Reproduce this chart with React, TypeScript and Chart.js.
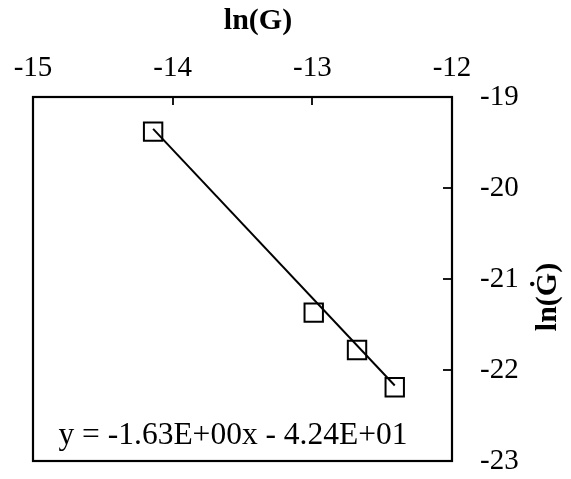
import React, { useEffect, useRef } from "react";
import { Chart, registerables } from "chart.js";

Chart.register(...registerables);

const lnG = [-14.14, -12.99, -12.68, -12.41];
const lnGdot = [-19.38, -21.37, -21.78, -22.19];
const trendX = [-14.14, -12.41];
const trendY = [-19.35, -22.17];
const xTicks = [-15, -14, -13, -12];
const yTicks = [-19, -20, -21, -22, -23];
const xTitle = "ln(G)";
const yTitle = "ln(\u0120)";
const equation = "y = -1.63E+00x - 4.24E+01";

const FONT = "'Liberation Serif', 'Times New Roman', serif";

const framePlugin = {
  id: "frame",
  afterDraw(chart: any) {
    const { ctx, chartArea: a, scales } = chart;
    const x = scales.x;
    const y = scales.y;
    ctx.save();
    ctx.strokeStyle = "#000";
    ctx.lineWidth = 2.2;
    ctx.strokeRect(a.left, a.top, a.right - a.left, a.bottom - a.top);
    ctx.lineWidth = 1.8;
    xTicks.forEach((v) => {
      const px = Math.round(x.getPixelForValue(v));
      ctx.beginPath();
      ctx.moveTo(px, a.top);
      ctx.lineTo(px, a.top + 8);
      ctx.stroke();
    });
    yTicks.forEach((v) => {
      const py = Math.round(y.getPixelForValue(v));
      ctx.beginPath();
      ctx.moveTo(a.right - 9, py);
      ctx.lineTo(a.right, py);
      ctx.stroke();
    });
    ctx.fillStyle = "#000";
    ctx.textAlign = "center";
    ctx.textBaseline = "middle";
    ctx.font = `bold 30px ${FONT}`;
    ctx.fillText(xTitle, 258, 21);
    ctx.save();
    ctx.translate(548, 297);
    ctx.rotate(-Math.PI / 2);
    ctx.fillText(yTitle, 0, 0);
    ctx.restore();
    ctx.font = `31.5px ${FONT}`;
    ctx.fillText(equation, 233, 436);
    ctx.restore();
  },
};

export default function App() {
  const ref = useRef<HTMLCanvasElement>(null);
  useEffect(() => {
    document.body.style.margin = "0";
    const chart = new Chart(ref.current!, {
      type: "scatter",
      data: {
        datasets: [
          {
            data: trendX.map((v, i) => ({ x: v, y: trendY[i] })),
            showLine: true,
            borderColor: "#000",
            borderWidth: 2,
            pointRadius: 0,
            order: 2,
          },
          {
            data: lnG.map((v, i) => ({ x: v, y: lnGdot[i] })),
            showLine: false,
            pointStyle: "rect",
            pointRadius: 13,
            pointBorderWidth: 2,
            pointBorderColor: "#000",
            pointBackgroundColor: "rgba(0,0,0,0)",
            order: 1,
          },
        ],
      },
      options: {
        animation: false,
        responsive: false,
        devicePixelRatio: 1,
        layout: { padding: { left: 33, right: 0, top: 0, bottom: 18 } },
        plugins: { legend: { display: false }, tooltip: { enabled: false } },
        scales: {
          x: {
            type: "linear",
            position: "top",
            min: -15,
            max: -12,
            afterBuildTicks: (s: any) => {
              s.ticks = xTicks.map((v) => ({ value: v }));
            },
            afterFit: (s: any) => {
              s.height = 97;
              s.paddingLeft = 0;
              s.paddingRight = 0;
            },
            grid: { display: false, drawTicks: false },
            border: { display: false },
            ticks: {
              color: "#000",
              font: { family: FONT, size: 29 },
              padding: 11,
              maxRotation: 0,
            },
          },
          y: {
            type: "linear",
            position: "right",
            min: -23,
            max: -19,
            afterBuildTicks: (s: any) => {
              s.ticks = yTicks.map((v) => ({ value: v }));
            },
            afterFit: (s: any) => {
              s.width = 119;
              s.paddingTop = 0;
              s.paddingBottom = 0;
            },
            grid: { display: false, drawTicks: false },
            border: { display: false },
            ticks: {
              color: "#000",
              font: { family: FONT, size: 29 },
              padding: 28,
            },
          },
        },
      },
      plugins: [framePlugin],
    });
    return () => chart.destroy();
  }, []);
  return (
    <div style={{ width: 571, height: 479, background: "#fff" }}>
      <canvas ref={ref} width={571} height={479} />
    </div>
  );
}
